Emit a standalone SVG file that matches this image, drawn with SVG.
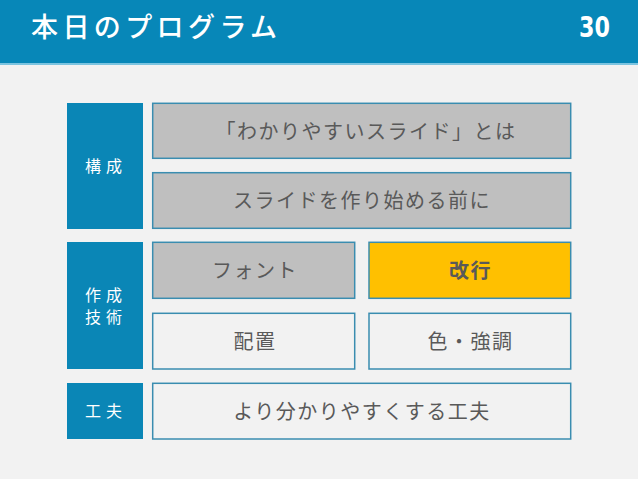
<svg xmlns="http://www.w3.org/2000/svg" width="638" height="479" viewBox="0 0 638 479">
<style>
.jp{font-family:"Noto Sans CJK JP","Noto Sans",sans-serif}
.cat{fill:#0a86b6}
.catt{fill:#ffffff;font-size:16px;letter-spacing:5px;text-anchor:middle}
.box{stroke:#3a8db0;stroke-width:1.5}
.gray{fill:#bfbfbf}
.plain{fill:#f2f2f2}
.hi{fill:#ffc000}
.bt{fill:#595959;font-size:20px;letter-spacing:1.5px;text-anchor:middle}
</style>
<rect x="0" y="0" width="638" height="479" fill="#f2f2f2"/>
<g id="header">
<rect x="0" y="0" width="638" height="63" fill="#0787b8"/>
<rect x="0" y="63" width="638" height="2" fill="#7cc4e0"/>
<text class="jp" x="31" y="37" font-size="27" font-weight="500" fill="#ffffff" textLength="246" lengthAdjust="spacing">本日のプログラム</text>
<text x="0" y="0" transform="translate(610,37) scale(0.95,1.1)" font-family="DejaVu Sans, sans-serif" font-stretch="condensed" font-weight="bold" font-size="26" fill="#ffffff" text-anchor="end">30</text>
</g>
<g id="cat-kousei">
<rect class="cat" x="67" y="103" width="76" height="126"/>
<text class="jp catt" x="106" y="172">構成</text>
</g>
<g id="cat-sakusei">
<rect class="cat" x="67" y="242" width="76" height="127"/>
<text class="jp catt" x="106" y="300.5">作成</text>
<text class="jp catt" x="106" y="323.2">技術</text>
</g>
<g id="cat-kufuu">
<rect class="cat" x="67" y="383" width="76" height="56"/>
<text class="jp catt" x="106" y="417">工夫</text>
</g>
<g id="item-wakariyasui">
<rect class="box gray" x="152.7" y="103.3" width="418" height="55"/>
<text class="jp bt" x="366" y="139">「わかりやすいスライド」とは</text>
</g>
<g id="item-mae">
<rect class="box gray" x="152.7" y="172.7" width="418" height="55.6"/>
<text class="jp bt" x="362" y="208">スライドを作り始める前に</text>
</g>
<g id="item-font">
<rect class="box gray" x="152.7" y="242.3" width="202" height="56"/>
<text class="jp bt" x="255" y="278">フォント</text>
</g>
<g id="item-kaigyou">
<rect class="box hi" x="369" y="242.3" width="201.7" height="56"/>
<text class="jp bt" x="470.5" y="278" font-weight="bold" fill="#5a4c26">改行</text>
</g>
<g id="item-haichi">
<rect class="box plain" x="152.7" y="313.3" width="202" height="55.7"/>
<text class="jp bt" x="255" y="348.7">配置</text>
</g>
<g id="item-iro">
<rect class="box plain" x="369" y="313.3" width="201.7" height="55.7"/>
<text class="jp bt" x="470.5" y="348.7">色・強調</text>
</g>
<g id="item-kufuu">
<rect class="box plain" x="152.7" y="383.3" width="418" height="55.7"/>
<text class="jp bt" x="362" y="418.8">より分かりやすくする工夫</text>
</g>
<g id="connectors"></g>
</svg>
